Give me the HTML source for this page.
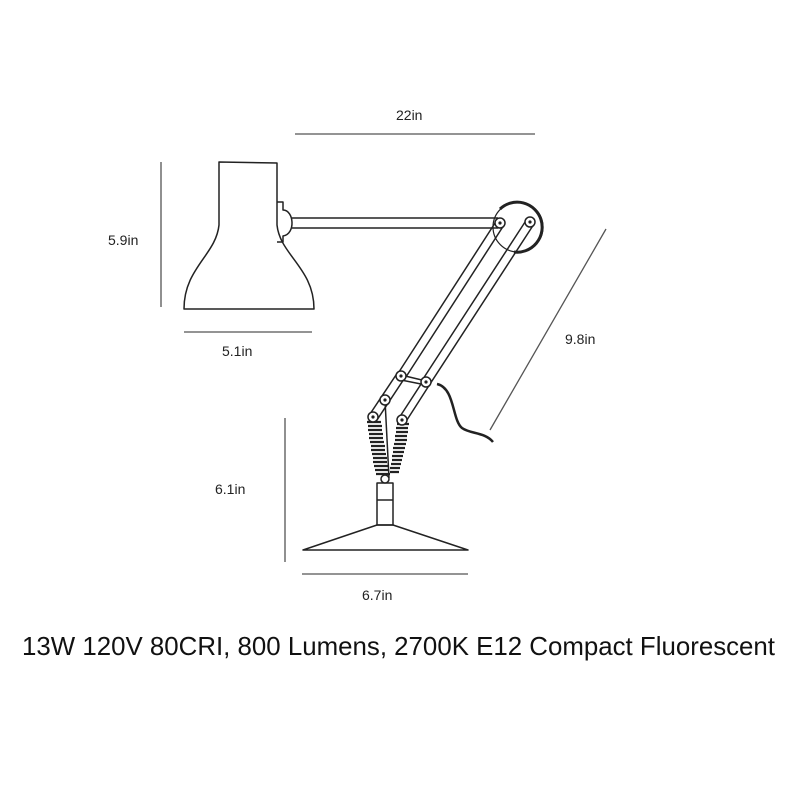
<!DOCTYPE html>
<html><head><meta charset="utf-8"><style>
html,body{margin:0;padding:0;background:#fff}
svg{display:block}
text{font-family:"Liberation Sans",sans-serif;fill:#222}
</style></head><body>
<svg width="800" height="800" viewBox="0 0 800 800" xmlns="http://www.w3.org/2000/svg">
<g stroke="#555" stroke-width="1.3" fill="none">
<line x1="295" y1="134" x2="535" y2="134"/>
<line x1="161" y1="162" x2="161" y2="307"/>
<line x1="184" y1="332" x2="312" y2="332"/>
<line x1="606" y1="229" x2="490" y2="430"/>
<line x1="285" y1="418" x2="285" y2="562"/>
<line x1="302" y1="574" x2="468" y2="574"/>
</g>
<g font-size="14">
<text x="396" y="120">22in</text>
<text x="108" y="245">5.9in</text>
<text x="222" y="356">5.1in</text>
<text x="565" y="344">9.8in</text>
<text x="215" y="494">6.1in</text>
<text x="362" y="600">6.7in</text>
</g>
<g stroke="#222" stroke-width="1.5" fill="none" stroke-linejoin="round">
<path d="M184,309 L314,309 C314,268 280,255 277,225 L277,163 L219,162 L219,225 C216,255 184,268 184,309 Z"/>
<path d="M277,202 L283,202 L283,210 C294,210 296,234 283,236 L283,242 L277,242"/>
<line x1="292" y1="218" x2="498" y2="218"/>
<line x1="292" y1="228" x2="498" y2="228"/>
<circle cx="518" cy="227" r="25" stroke-width="1.2"/>
<path d="M500,209 A25,25 0 1 1 514,252" stroke-width="3"/>
<line x1="497" y1="220" x2="397" y2="375"/>
<line x1="504" y1="225" x2="404" y2="380"/>
<line x1="527" y1="219" x2="423" y2="379"/>
<line x1="534" y1="224" x2="430" y2="384"/>
<line x1="401" y1="375" x2="426" y2="381"/>
<line x1="401" y1="380" x2="426" y2="385"/>
<line x1="398" y1="372" x2="370" y2="414"/>
<line x1="404" y1="379" x2="377" y2="420"/>
<line x1="425" y1="378" x2="399" y2="418"/>
<line x1="430" y1="384" x2="405" y2="423"/>
<line x1="385" y1="400" x2="389" y2="478"/>
<rect x="377" y="483" width="16" height="42"/>
<line x1="377" y1="500" x2="393" y2="500"/>
<path d="M377,525 L303,550 L468,550 L393,525 Z"/>
<path d="M437,384 C455,388 452,420 462,428 C470,434 485,432 493,442" stroke-width="2.5"/>
</g>
<g stroke="#222" stroke-width="2.2">
<path d="M367,422 L381,422 M368,426 L382,426 M368,430 L382,430 M369,434 L383,434 M369,438 L383,438 M370,442 L384,442 M371,446 L385,446 M371,450 L385,450 M372,454 L386,454 M373,458 L387,458 M373,462 L387,462 M374,466 L388,466 M375,470 L389,470 M376,474 L390,474"/>
<path d="M397,424 L409,424 M396,428 L408,428 M396,432 L408,432 M395,436 L407,436 M395,440 L407,440 M394,444 L406,444 M393,448 L405,448 M393,452 L404,452 M392,456 L403,456 M392,460 L402,460 M391,464 L401,464 M390,468 L400,468 M390,472 L399,472"/>
</g>
<g fill="#fff" stroke="#222" stroke-width="1.5">
<circle cx="500" cy="223" r="5"/><circle cx="530" cy="222" r="5"/>
<circle cx="401" cy="376" r="5"/><circle cx="426" cy="382" r="5"/>
<circle cx="385" cy="400" r="5"/><circle cx="373" cy="417" r="5"/><circle cx="402" cy="420" r="5"/>
<circle cx="385" cy="479" r="4"/>
</g>
<g fill="#222">
<circle cx="500" cy="223" r="1.6"/><circle cx="530" cy="222" r="1.6"/>
<circle cx="401" cy="376" r="1.6"/><circle cx="426" cy="382" r="1.6"/>
<circle cx="385" cy="400" r="1.6"/><circle cx="373" cy="417" r="1.6"/><circle cx="402" cy="420" r="1.6"/>
</g>
<text x="22" y="655" font-size="26" textLength="753" lengthAdjust="spacingAndGlyphs" style="fill:#111">13W 120V 80CRI, 800 Lumens, 2700K E12 Compact Fluorescent</text>
</svg>
</body></html>
